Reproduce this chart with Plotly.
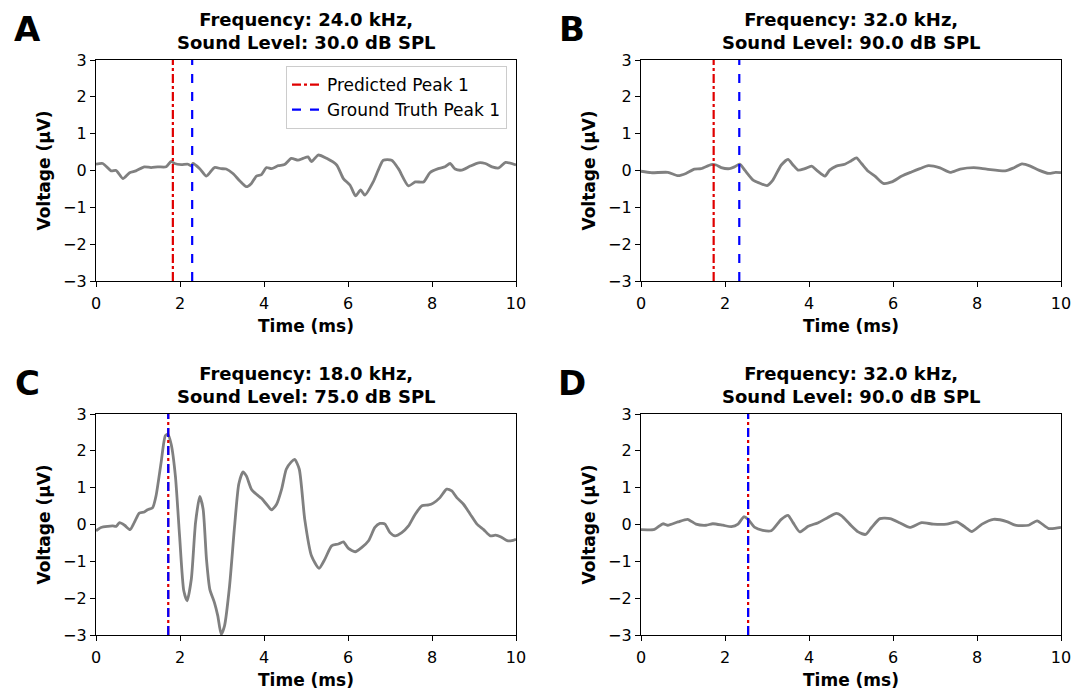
import plotly.graph_objects as go

# ---------------- data ----------------
# Panel A
a_t = [0, 0.16, 0.36, 0.48, 0.64, 0.80, 0.95, 1.15, 1.31, 1.47, 1.67, 1.79, 1.87, 2.03, 2.19, 2.27, 2.31,
       2.47, 2.63, 2.82, 2.98, 3.10, 3.26, 3.42, 3.58, 3.70, 3.82, 3.94, 4.06, 4.18, 4.34, 4.49, 4.65,
       4.81, 4.93, 5.05, 5.13, 5.29, 5.49, 5.73, 5.89, 6.05, 6.18, 6.30, 6.40, 6.60, 6.72, 6.84, 7.04,
       7.20, 7.44, 7.60, 7.80, 7.95, 8.15, 8.31, 8.43, 8.55, 8.71, 8.91, 9.11, 9.27, 9.43, 9.59, 9.75, 10.0]
a_v = [0.17, 0.19, -0.01, 0.0, -0.22, -0.06, -0.01, 0.10, 0.08, 0.10, 0.10, 0.25, 0.19, 0.16, 0.17, 0.12, 0.19,
       0.05, -0.15, 0.08, 0.05, 0.04, -0.08, -0.28, -0.44, -0.35, -0.15, -0.11, 0.08, 0.05, 0.13, 0.16, 0.33,
       0.28, 0.33, 0.37, 0.24, 0.42, 0.33, 0.15, -0.22, -0.40, -0.69, -0.53, -0.67, -0.31, 0.01, 0.28, 0.28,
       0.05, -0.42, -0.31, -0.31, -0.06, 0.05, 0.10, 0.19, 0.04, 0.01, 0.12, 0.21, 0.19, 0.10, 0.07, 0.22, 0.15]

# Panel B
b_t = [0, 0.24, 0.64, 0.88, 1.07, 1.27, 1.43, 1.67, 1.79, 1.91, 2.11, 2.23, 2.35, 2.47, 2.67, 2.82, 3.00,
       3.14, 3.34, 3.50, 3.62, 3.74, 3.90, 4.06, 4.18, 4.38, 4.49, 4.65, 4.85, 5.00, 5.13, 5.25, 5.41,
       5.57, 5.77, 5.97, 6.21, 6.44, 6.64, 6.84, 7.12, 7.36, 7.60, 7.92, 8.23, 8.67, 8.87, 9.07, 9.27,
       9.47, 9.71, 9.87, 10.0]
b_v = [-0.02, -0.06, -0.05, -0.14, -0.08, 0.04, 0.05, 0.16, 0.15, 0.08, 0.05, 0.10, 0.17, 0.01, -0.26, -0.34, -0.41,
       -0.26, 0.15, 0.30, 0.15, 0.01, 0.05, 0.12, 0.01, -0.15, 0.01, 0.12, 0.17, 0.26, 0.34, 0.19, -0.02,
       -0.15, -0.35, -0.31, -0.15, -0.04, 0.05, 0.13, 0.07, -0.05, 0.04, 0.08, 0.04, -0.01, 0.07, 0.18, 0.12,
       0.01, -0.08, -0.05, -0.06]

# Panel C
c_t = [0, 0.12, 0.28, 0.40, 0.48, 0.56, 0.68, 0.81, 0.91, 1.03, 1.15, 1.23, 1.35, 1.43, 1.55, 1.65, 1.71,
       1.79, 1.89, 1.99, 2.09, 2.17, 2.27, 2.37, 2.47, 2.55, 2.63, 2.71, 2.82, 2.90, 2.98, 3.06, 3.18,
       3.30, 3.40, 3.50, 3.58, 3.70, 3.82, 3.94, 4.06, 4.18, 4.30, 4.42, 4.53, 4.65, 4.73, 4.84, 4.97,
       5.13, 5.31, 5.45, 5.61, 5.77, 5.89, 6.01, 6.17, 6.33, 6.49, 6.64, 6.76, 6.88, 7.00, 7.12, 7.28,
       7.44, 7.60, 7.76, 7.92, 8.03, 8.19, 8.35, 8.47, 8.59, 8.75, 8.91, 9.07, 9.23, 9.39, 9.51, 9.63,
       9.79, 9.90, 10.0]
c_v = [-0.17, -0.08, -0.05, -0.04, -0.05, 0.05, -0.02, -0.14, 0.05, 0.31, 0.34, 0.40, 0.46, 0.78, 1.68, 2.41, 2.45,
       2.18, 1.32, -0.31, -1.80, -2.07, -1.48, 0.05, 0.76, 0.42, -0.94, -1.76, -2.12, -2.48, -2.98, -2.75, -1.67,
       -0.04, 1.10, 1.43, 1.32, 0.96, 0.82, 0.71, 0.55, 0.40, 0.55, 0.96, 1.50, 1.70, 1.77, 1.50, 0.14,
       -0.85, -1.19, -0.94, -0.58, -0.53, -0.47, -0.65, -0.74, -0.62, -0.44, -0.08, 0.03, 0.01, -0.22, -0.31, -0.22,
       -0.04, 0.28, 0.51, 0.53, 0.58, 0.73, 0.96, 0.91, 0.73, 0.55, 0.28, 0.01, -0.14, -0.31, -0.29, -0.33,
       -0.44, -0.44, -0.40]

# Panel D
d_t = [0, 0.32, 0.52, 0.64, 0.88, 1.11, 1.31, 1.55, 1.71, 1.95, 2.15, 2.31, 2.45, 2.55, 2.71, 2.90, 3.10,
       3.34, 3.50, 3.62, 3.78, 3.98, 4.22, 4.45, 4.65, 4.77, 4.97, 5.17, 5.35, 5.49, 5.69, 5.93, 6.17,
       6.40, 6.68, 6.96, 7.28, 7.52, 7.68, 7.88, 8.12, 8.39, 8.71, 8.91, 9.23, 9.43, 9.71, 10.0]
d_v = [-0.14, -0.13, 0.02, -0.02, 0.07, 0.14, 0.01, -0.02, 0.02, -0.02, -0.06, 0.01, 0.21, 0.14, -0.08, -0.16, -0.17,
       0.14, 0.25, 0.05, -0.20, -0.05, 0.05, 0.19, 0.30, 0.24, 0.01, -0.20, -0.27, -0.08, 0.16, 0.16, 0.04,
       -0.08, 0.05, 0.01, 0.01, 0.07, -0.04, -0.19, 0.01, 0.14, 0.08, -0.02, -0.02, 0.10, -0.11, -0.08]

panel_letters = ["A", "B", "C", "D"]
frequencies = [24.0, 32.0, 18.0, 32.0]
sound_levels = [30.0, 90.0, 75.0, 90.0]
predicted_peak = [1.83, 1.73, 1.72, 2.55]
truth_peak = [2.29, 2.34, 1.72, 2.55]

x_ticks = [0, 2, 4, 6, 8, 10]
y_ticks = [-3, -2, -1, 0, 1, 2, 3]
y_tick_text = ["\u22123", "\u22122", "\u22121", "0", "1", "2", "3"]

series_t = [a_t, b_t, c_t, d_t]
series_v = [a_v, b_v, c_v, d_v]

# ---------------- layout geometry ----------------
# page body has an 8px margin; work in screenshot pixels and shift
OFF = 8
W, H = 1087 - OFF, 691 - OFF
ML, MR, MT, MB = 96 - OFF, 26, 60 - OFF, 56
PW, PH = W - ML - MR, H - MT - MB

def px_x(px):
    return (px - OFF - ML) / PW

def px_y(py):
    return 1 - (py - OFF - MT) / PH

x_domains = [[px_x(96), px_x(516)], [px_x(641), px_x(1061)]]
y_domains = [[px_y(281), px_y(60)], [px_y(635), px_y(414)]]

FONT = "DejaVu Sans"
fig = go.Figure()
annotations = []

for i in range(4):
    row, col = divmod(i, 2)
    n = i + 1
    xa = "x" if n == 1 else f"x{n}"
    ya = "y" if n == 1 else f"y{n}"
    xkey = "xaxis" if n == 1 else f"xaxis{n}"
    ykey = "yaxis" if n == 1 else f"yaxis{n}"

    fig.add_trace(go.Scatter(x=series_t[i], y=series_v[i], mode="lines",
                             line=dict(color="#808080", width=2.8, shape="spline", smoothing=0.6),
                             xaxis=xa, yaxis=ya, showlegend=False, hoverinfo="skip"))
    fig.add_trace(go.Scatter(x=[predicted_peak[i], predicted_peak[i]], y=[y_ticks[0], y_ticks[-1]],
                             mode="lines", line=dict(color="#e00000", width=2.2, dash="dashdot"),
                             name="Predicted Peak 1", xaxis=xa, yaxis=ya, showlegend=(i == 0)))
    fig.add_trace(go.Scatter(x=[truth_peak[i], truth_peak[i]], y=[y_ticks[0], y_ticks[-1]],
                             mode="lines", line=dict(color="#0000ff", width=2.2, dash="dash"),
                             name="Ground Truth Peak 1", xaxis=xa, yaxis=ya, showlegend=(i == 0)))

    fig.layout[xkey] = dict(domain=x_domains[col], anchor=ya, range=[0, 10], automargin=False,
                            tickvals=x_ticks, ticks="outside", ticklen=5, tickcolor="black",
                            ticklabelstandoff=3,
                            showline=True, linecolor="black", linewidth=1.2, mirror=True,
                            showgrid=False, zeroline=False,
                            tickfont=dict(family=FONT, size=16, color="black"),
                            title=dict(text="<b>Time (ms)</b>", standoff=7,
                                       font=dict(family=FONT, size=17, color="black")))
    fig.layout[ykey] = dict(domain=y_domains[row], anchor=xa, range=[-3, 3], automargin=False,
                            tickvals=y_ticks, ticktext=y_tick_text, ticks="outside", ticklen=5,
                            tickcolor="black",
                            showline=True, linecolor="black", linewidth=1.2, mirror=True,
                            showgrid=False, zeroline=False,
                            tickfont=dict(family=FONT, size=16, color="black"),
                            title=dict(text="<b>Voltage (\u03bcV)</b>", standoff=8,
                                       font=dict(family=FONT, size=17, color="black")))

    xc = (x_domains[col][0] + x_domains[col][1]) / 2
    annotations.append(dict(
        text=f"<b>Frequency: {frequencies[i]:.1f} kHz,</b><br><b>Sound Level: {sound_levels[i]:.1f} dB SPL</b>",
        x=xc, y=y_domains[row][1], xref="paper", yref="paper", xanchor="center", yanchor="bottom",
        yshift=5, showarrow=False, font=dict(family=FONT, size=18, color="black")))
    lx = [27, 572][col]
    ly_top = [8, 362][row]
    annotations.append(dict(text=f"<b>{panel_letters[i]}</b>", x=px_x(lx), y=px_y(ly_top),
                            xref="paper", yref="paper", xanchor="center", yanchor="top",
                            borderpad=0, showarrow=False,
                            font=dict(family=FONT, size=34, color="black")))

fig.update_layout(
    width=W, height=H,
    margin=dict(l=ML, r=MR, t=MT, b=MB, autoexpand=False),
    paper_bgcolor="white", plot_bgcolor="white",
    font=dict(family=FONT, color="black"),
    annotations=annotations,
    legend=dict(x=px_x(507), y=px_y(66), xanchor="right", yanchor="top",
                bgcolor="white", bordercolor="#cccccc", borderwidth=1,
                font=dict(family=FONT, size=17, color="black"),
                tracegroupgap=0, itemwidth=30),
)

fig.write_html("out.html")
